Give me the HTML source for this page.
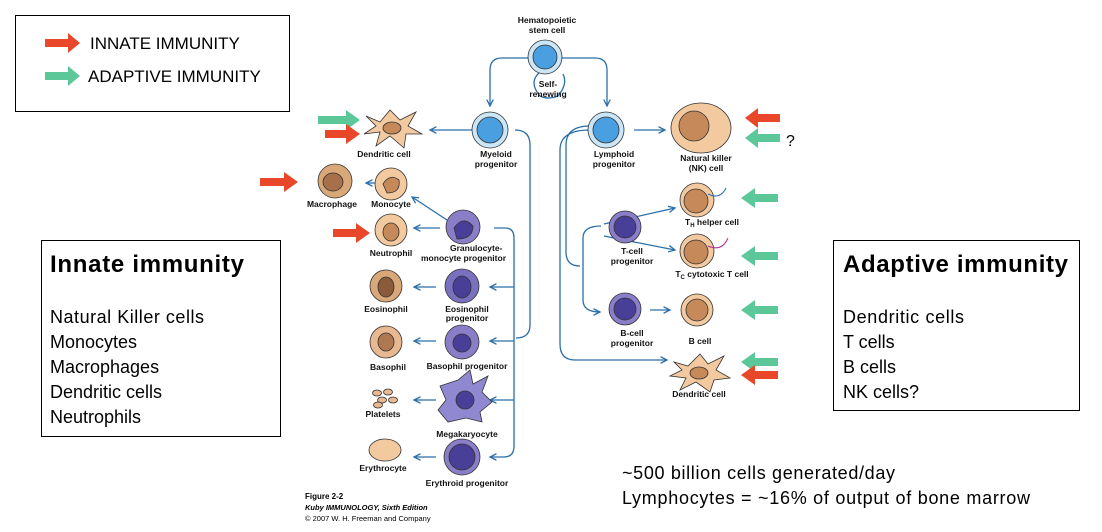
<!DOCTYPE html>
<html><head><style>
body{margin:0;width:1102px;height:532px;background:#fff;overflow:hidden;font-family:"Liberation Sans",sans-serif}
svg{position:absolute;left:0;top:0}
.l{font:bold 8.5px "Liberation Sans",sans-serif;fill:#111;text-anchor:middle}
</style></head><body>
<svg width="1102" height="532" viewBox="0 0 1102 532">
<defs>
<marker id="a" markerWidth="6" markerHeight="6" refX="5" refY="3" orient="auto"><path d="M0,0.5 L5,3 L0,5.5" fill="none" stroke="#2a6fa8" stroke-width="1"/></marker>
</defs>
<rect x="15.5" y="15.5" width="274" height="96" fill="#fff" stroke="#000"/>
<polygon points="45,39 68,39 68,33 80,43 68,53 68,47 45,47" fill="#e8472a"/>
<text x="90" y="49" font-size="17">INNATE IMMUNITY</text>
<polygon points="45,72 68,72 68,66 80,76 68,86 68,80 45,80" fill="#5cc89a"/>
<text x="88" y="82" font-size="17">ADAPTIVE IMMUNITY</text>
<rect x="41.5" y="240.5" width="239" height="196" fill="#fff" stroke="#000"/>
<text x="50" y="272" font-size="24" font-weight="bold" textLength="194">Innate immunity</text>
<g font-size="18"><text x="50" y="323" textLength="154">Natural Killer cells</text><text x="50" y="348">Monocytes</text><text x="50" y="373">Macrophages</text><text x="50" y="398">Dendritic cells</text><text x="50" y="423">Neutrophils</text></g>
<rect x="833.5" y="240.5" width="246" height="170" fill="#fff" stroke="#000"/>
<text x="843" y="272" font-size="24" font-weight="bold" textLength="225">Adaptive immunity</text>
<g font-size="18"><text x="843" y="323" textLength="121">Dendritic cells</text><text x="843" y="348">T cells</text><text x="843" y="373">B cells</text><text x="843" y="398">NK cells?</text></g>
<text x="622" y="479" font-size="18" textLength="273">~500 billion cells generated/day</text>
<text x="622" y="504" font-size="18" textLength="408">Lymphocytes = ~16% of output of bone marrow</text>
<text x="305" y="499" font-size="8" font-weight="bold">Figure 2-2</text>
<text x="305" y="510" font-size="7.5" font-weight="bold" font-style="italic">Kuby IMMUNOLOGY, Sixth Edition</text>
<text x="305" y="521" font-size="7.5">© 2007 W. H. Freeman and Company</text>
<g fill="none" stroke="#2a6fa8" stroke-width="1.3">
<path d="M528,58 H502 Q490,58 490,70 V106" marker-end="url(#a)"/>
<path d="M562,58 H595 Q607,58 607,70 V106" marker-end="url(#a)"/>
<path d="M540,72 Q528,82 540,96 Q548,100 558,96 Q568,84 563,74" />
<path d="M474,130 H430" marker-end="url(#a)"/>
<path d="M515,130 Q530,130 530,145 V325 Q530,338 516,338"/>
<path d="M376,183 H366" marker-end="url(#a)"/>
<path d="M447,220 L412,197" marker-end="url(#a)"/>
<path d="M440,228 H414" marker-end="url(#a)"/>
<path d="M494,228 H505 Q514,228 514,238 V446 Q514,457 504,457 H490" marker-end="url(#a)"/>
<path d="M514,287 H490" marker-end="url(#a)"/><path d="M514,341 H490" marker-end="url(#a)"/><path d="M514,400 H490" marker-end="url(#a)"/>
<path d="M436,287 H414" marker-end="url(#a)"/><path d="M436,341 H414" marker-end="url(#a)"/><path d="M436,400 H414" marker-end="url(#a)"/><path d="M436,457 H414" marker-end="url(#a)"/>
<path d="M634,130 H665" marker-end="url(#a)"/>
<path d="M590,126 Q566,126 566,145 V252 Q566,266 580,266"/>
<path d="M590,130 Q560,130 560,150 V344 Q560,360 575,360 H667" marker-end="url(#a)"/>
<path d="M604,224 L675,208" marker-end="url(#a)"/><path d="M604,236 L675,250" marker-end="url(#a)"/>
<path d="M601,226 Q583,226 583,238 V300 Q583,312 600,312" marker-end="url(#a)"/>
<path d="M650,310 H670" marker-end="url(#a)"/>
</g>
<g stroke="#333" stroke-width="0.8">
<circle cx="545" cy="57" r="17" fill="#cbe6f7"/><circle cx="545" cy="57" r="12" fill="#4a9fe0"/>
<circle cx="490" cy="130" r="18" fill="#cbe6f7"/><circle cx="490" cy="130" r="13" fill="#4a9fe0"/>
<circle cx="606" cy="130" r="18" fill="#cbe6f7"/><circle cx="606" cy="130" r="13" fill="#4a9fe0"/>
<path d="M366,116 L380,122 L390,110 L400,120 L416,112 L408,126 L422,134 L406,134 L404,148 L390,136 L376,146 L380,132 L364,134 L376,126 Z" fill="#f3c9a0"/><ellipse cx="392" cy="128" rx="9" ry="6" fill="#c68a5a"/>
<circle cx="391" cy="184" r="16" fill="#f3c9a0"/><path d="M383,184 Q390,173 399,180 Q401,193 387,193Z" fill="#c68a5a"/>
<circle cx="335" cy="181" r="17" fill="#d9a878"/><ellipse cx="333" cy="182" rx="10" ry="9" fill="#a8704a"/>
<circle cx="391" cy="230" r="16" fill="#f3c9a0"/><ellipse cx="391" cy="232" rx="8" ry="9" fill="#c68a5a"/>
<circle cx="463" cy="227" r="17" fill="#8a7ec8"/><path d="M454,228 Q463,215 473,226 Q473,239 457,239Z" fill="#4a3f98"/>
<circle cx="386" cy="286" r="16" fill="#d9a878"/><ellipse cx="386" cy="287" rx="8" ry="10" fill="#8a5a3a"/>
<circle cx="462" cy="286" r="17" fill="#7a70c0"/><ellipse cx="462" cy="287" rx="9" ry="11" fill="#4a3f98"/>
<circle cx="386" cy="342" r="16" fill="#e8b890"/><ellipse cx="386" cy="342" rx="8" ry="9" fill="#b07850"/>
<circle cx="462" cy="342" r="17" fill="#8a7ec8"/><ellipse cx="462" cy="343" rx="9" ry="9" fill="#4a3f98"/>
<path d="M440,386 L458,380 L470,370 L473,384 L488,376 L482,392 L492,402 L480,412 L482,422 L466,418 L448,422 L438,410 L446,400 Z" fill="#9088d0"/><circle cx="465" cy="400" r="9" fill="#4a3f98"/>
<g fill="#e8b890"><ellipse cx="377" cy="393" rx="4.5" ry="3"/><ellipse cx="388" cy="392" rx="4.5" ry="3"/><ellipse cx="382" cy="400" rx="4.5" ry="3"/><ellipse cx="393" cy="400" rx="4.5" ry="3"/><ellipse cx="378" cy="405" rx="4.5" ry="3"/></g>
<ellipse cx="385" cy="450" rx="16" ry="11" fill="#f3c9a0"/>
<circle cx="462" cy="457" r="18" fill="#8a7ec8"/><circle cx="462" cy="457" r="13" fill="#4a3f98"/>
<ellipse cx="701" cy="128" rx="30" ry="25" fill="#f3c9a0"/><circle cx="694" cy="126" r="15" fill="#c68a5a"/>
<circle cx="625" cy="227" r="16" fill="#8a7ec8"/><circle cx="625" cy="227" r="11" fill="#4a3f98"/>
<circle cx="625" cy="309" r="16" fill="#8a7ec8"/><circle cx="625" cy="309" r="11" fill="#4a3f98"/>
<circle cx="697" cy="200" r="17" fill="#f3c9a0"/><circle cx="696" cy="201" r="12" fill="#c68a5a"/>
<circle cx="697" cy="251" r="17" fill="#f3c9a0"/><circle cx="696" cy="252" r="12" fill="#c68a5a"/>
<circle cx="697" cy="310" r="16" fill="#f3c9a0"/><circle cx="697" cy="310" r="11" fill="#c68a5a"/>
<path d="M674,362 L688,366 L700,354 L708,364 L724,356 L716,370 L730,378 L714,380 L710,392 L696,382 L680,390 L686,378 L670,376 L682,370 Z" fill="#f3c9a0"/><ellipse cx="699" cy="373" rx="9" ry="6" fill="#c68a5a"/>
</g>
<g fill="none" stroke="#2a6fa8" stroke-width="1"><path d="M708,194 Q720,200 726,188"/></g>
<g fill="none" stroke="#b03090" stroke-width="1"><path d="M708,246 Q722,252 728,238"/></g>
<g class="l">
<text x="547" y="23" class="l">Hematopoietic</text><text x="547" y="33" class="l">stem cell</text>
<text x="548" y="87" class="l">Self-</text><text x="548" y="97" class="l">renewing</text>
<text x="384" y="157" class="l">Dendritic cell</text>
<text x="496" y="157" class="l">Myeloid</text><text x="496" y="167" class="l">progenitor</text>
<text x="332" y="207" class="l">Macrophage</text><text x="391" y="207" class="l">Monocyte</text>
<text x="391" y="256" class="l">Neutrophil</text>
<text x="450" y="251" class="l" style="text-anchor:start">Granulocyte-</text><text x="421" y="261" class="l" style="text-anchor:start">monocyte progenitor</text>
<text x="386" y="312" class="l">Eosinophil</text><text x="467" y="312" class="l">Eosinophil</text><text x="467" y="321" class="l">progenitor</text>
<text x="388" y="370" class="l">Basophil</text><text x="467" y="369" class="l">Basophil progenitor</text>
<text x="383" y="417" class="l">Platelets</text><text x="467" y="437" class="l">Megakaryocyte</text>
<text x="383" y="471" class="l">Erythrocyte</text><text x="467" y="486" class="l">Erythroid progenitor</text>
<text x="614" y="157" class="l">Lymphoid</text><text x="614" y="167" class="l">progenitor</text>
<text x="706" y="161" class="l">Natural killer</text><text x="706" y="171" class="l">(NK) cell</text>
<text x="712" y="225" class="l">T<tspan font-size="6" dy="2">H</tspan><tspan dy="-2"> helper cell</tspan></text>
<text x="632" y="254" class="l">T-cell</text><text x="632" y="264" class="l">progenitor</text>
<text x="712" y="277" class="l">T<tspan font-size="6" dy="2">C</tspan><tspan dy="-2"> cytotoxic T cell</tspan></text>
<text x="632" y="336" class="l">B-cell</text><text x="632" y="346" class="l">progenitor</text>
<text x="700" y="344" class="l">B cell</text>
<text x="699" y="397" class="l">Dendritic cell</text>
</g>
<g>
<polygon points="318,116 346,116 346,110 360,120 346,130 346,124 318,124" fill="#5cc89a"/>
<polygon points="325,130 346,130 346,124 360,134 346,144 346,138 325,138" fill="#e8472a"/>
<polygon points="260,178 284,178 284,172 298,182 284,192 284,186 260,186" fill="#e8472a"/>
<polygon points="333,229 356,229 356,223 370,233 356,243 356,237 333,237" fill="#e8472a"/>
<polygon points="780,114 758,114 758,108 745,118 758,128 758,122 780,122" fill="#e8472a"/>
<polygon points="780,134 758,134 758,128 745,138 758,148 758,142 780,142" fill="#5cc89a"/>
<polygon points="778,194 755,194 755,188 741,198 755,208 755,202 778,202" fill="#5cc89a"/>
<polygon points="778,252 755,252 755,246 741,256 755,266 755,260 778,260" fill="#5cc89a"/>
<polygon points="778,306 755,306 755,300 741,310 755,320 755,314 778,314" fill="#5cc89a"/>
<polygon points="778,358 755,358 755,352 741,362 755,372 755,366 778,366" fill="#5cc89a"/>
<polygon points="778,371 755,371 755,365 741,375 755,385 755,379 778,379" fill="#e8472a"/>
</g>
<text x="786" y="146" font-size="16">?</text>
</svg>
</body></html>
